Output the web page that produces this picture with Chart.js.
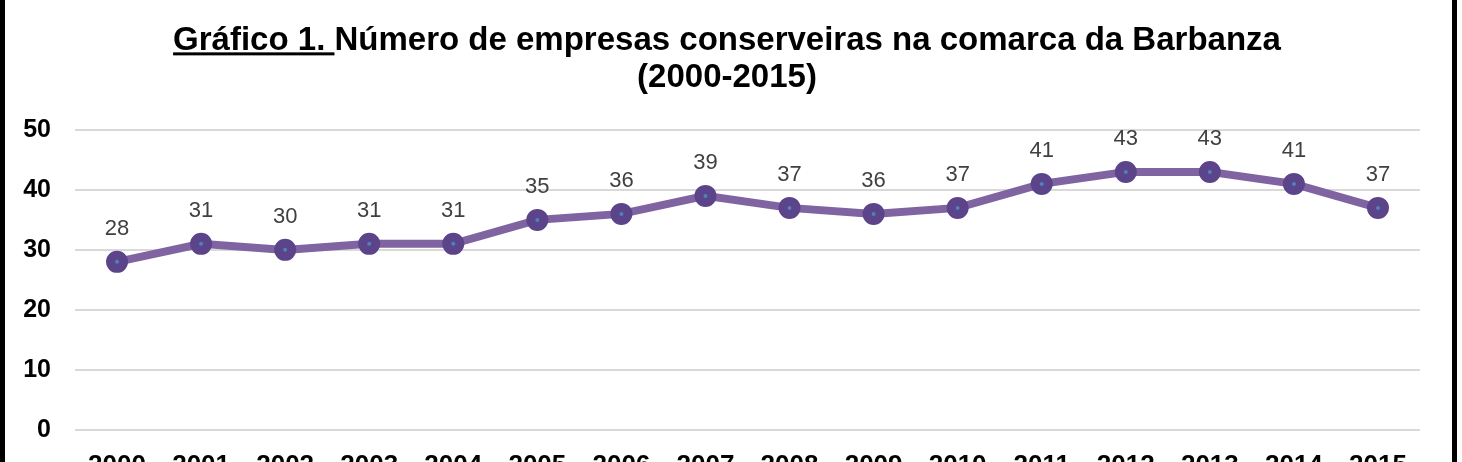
<!DOCTYPE html>
<html>
<head>
<meta charset="utf-8">
<script src="https://cdn.jsdelivr.net/npm/chart.js@4"></script>
<style>
  html, body { margin: 0; padding: 0; background: #fff; overflow: hidden; }
  #frame { position: absolute; left: 0; top: -10px; width: 1447px; height: 540px;
           border: 5px solid #000; background: #fff; }
  #wrap { position: absolute; left: 0; top: 10px; width: 1447px; height: 507px; }
</style>
</head>
<body>
<div id="frame"><div id="wrap"><canvas id="c"></canvas></div></div>
<script>
const years = ['2000','2001','2002','2003','2004','2005','2006','2007','2008','2009','2010','2011','2012','2013','2014','2015'];
const empresas = [28,31,30,31,31,35,36,39,37,36,37,41,43,43,41,37];
const yTicks = [0,10,20,30,40,50];
const titlePrefix = 'Gráfico 1. ';
const titleLines = ['Gráfico 1. Número de empresas conserveiras na comarca da Barbanza', '(2000-2015)'];

const FONT = '"Liberation Sans", Arial, sans-serif';

const valueLabels = {
  id: 'valueLabels',
  afterDatasetsDraw(chart) {
    const ctx = chart.ctx;
    const meta = chart.getDatasetMeta(0);
    ctx.save();
    ctx.font = '22px ' + FONT;
    ctx.fillStyle = '#404040';
    ctx.textAlign = 'center';
    ctx.textBaseline = 'middle';
    meta.data.forEach((pt, i) => {
      ctx.fillText(String(chart.data.datasets[0].data[i]), pt.x, pt.y - 33);
    });
    ctx.restore();
  }
};

// let the y tick labels extend into the left layout padding (keeps the title centred like the reference)
const yLabelRoom = {
  id: 'yLabelRoom',
  afterLayout(chart) { chart.scales.y.left = 0; }
};

const titleUnderline = {
  id: 'titleUnderline',
  afterDraw(chart) {
    const t = chart.titleBlock;
    if (!t) return;
    const ctx = chart.ctx;
    const f = chart.options.plugins.title.font;
    ctx.save();
    ctx.font = 'bold ' + f.size + 'px ' + FONT;
    const full = ctx.measureText(titleLines[0]).width;
    const pre = ctx.measureText(titlePrefix).width;
    const cx = (t.left + t.right) / 2;
    const x0 = cx - full / 2;
    const lh = f.size * f.lineHeight;
    const y = t.top + chart.options.plugins.title.padding.top + lh / 2 + f.size * 0.36;
    ctx.fillStyle = '#000';
    ctx.fillRect(x0, y, pre, 3);
    ctx.restore();
  }
};

new Chart(document.getElementById('c'), {
  type: 'line',
  data: {
    labels: years,
    datasets: [{
      data: empresas,
      borderColor: '#8064A2',
      borderWidth: 8,
      pointRadius: 6.5,
      pointHoverRadius: 6.5,
      pointBorderWidth: 9,
      pointBackgroundColor: '#4F81BD',
      pointBorderColor: '#5B448A',
      tension: 0,
      fill: false
    }]
  },
  options: {
    responsive: true,
    maintainAspectRatio: false,
    animation: false,
    events: [],
    layout: { padding: { left: 29, right: 32, top: 0, bottom: 11 } },
    plugins: {
      legend: { display: false },
      tooltip: { enabled: false },
      title: {
        display: true,
        text: titleLines,
        color: '#000',
        font: { family: FONT, size: 33, weight: 'bold', lineHeight: 1.12 },
        padding: { top: 17, bottom: 34 }
      }
    },
    scales: {
      x: {
        offset: true,
        grid: { display: false, drawTicks: false },
        border: { display: false },
        afterFit(axis) { axis.paddingLeft = 0; axis.paddingRight = 0; },
        ticks: { color: '#000', font: { family: FONT, size: 26, weight: 'bold' }, padding: 20, maxRotation: 0, autoSkip: false }
      },
      y: {
        min: 0, max: 50,
        afterBuildTicks(axis) { axis.ticks = yTicks.map(v => ({ value: v })); },
        afterFit(axis) { axis.width = 41; },
        grid: { color: '#D9D9D9', lineWidth: 2, drawTicks: false },
        border: { display: false },
        ticks: { color: '#000', font: { family: FONT, size: 25, weight: 'bold' }, padding: 24 }
      }
    }
  },
  plugins: [yLabelRoom, valueLabels, titleUnderline]
});
</script>
</body>
</html>
